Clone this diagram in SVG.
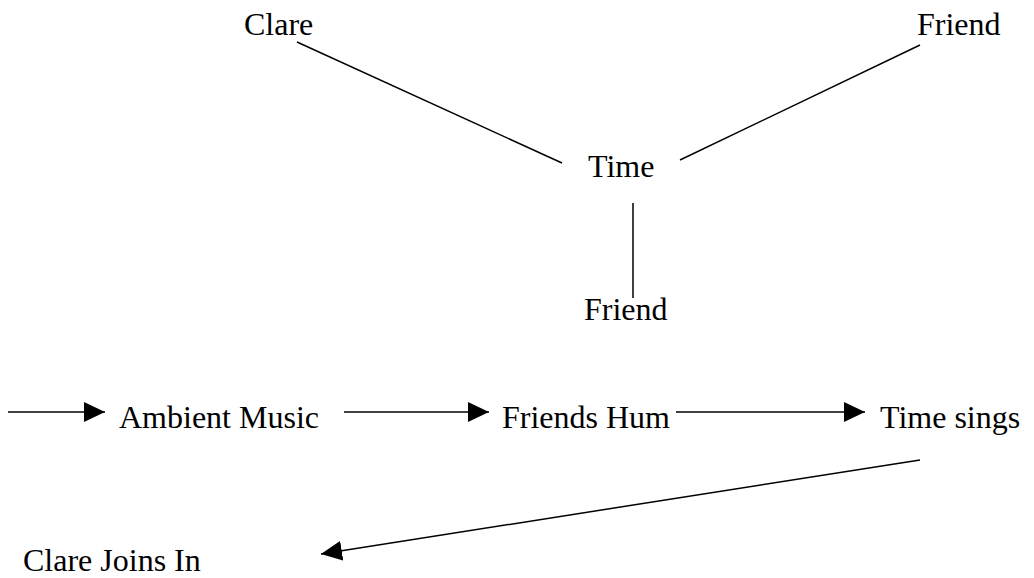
<svg xmlns="http://www.w3.org/2000/svg" width="1034" height="578" viewBox="0 0 1034 578">
<style>
text{font-family:"Liberation Serif","Times New Roman",serif;font-size:32px;fill:#000}
.ln{stroke:#000;stroke-width:1.5;fill:none}
</style>
<defs>
<marker id="ah" markerWidth="21" markerHeight="20" refX="21" refY="10" orient="auto" markerUnits="userSpaceOnUse">
<path d="M0,0 L21,10 L0,20 Z" fill="#000"/>
</marker>
</defs>
<rect width="1034" height="578" fill="#fff"/>
<g id="connectors">
<line class="ln" x1="297" y1="42" x2="562" y2="163"/>
<line class="ln" x1="920" y1="45" x2="680" y2="160"/>
<line class="ln" x1="633" y1="203" x2="633" y2="298"/>
<line class="ln" x1="8" y1="412" x2="105" y2="412" marker-end="url(#ah)"/>
<line class="ln" x1="344" y1="412" x2="489" y2="412" marker-end="url(#ah)"/>
<line class="ln" x1="676" y1="412" x2="865" y2="412" marker-end="url(#ah)"/>
<line class="ln" x1="920" y1="460" x2="321" y2="554" marker-end="url(#ah)"/>
</g>
<g id="clare"><text x="244" y="35">Clare</text></g>
<g id="friend-top"><text x="917" y="35">Friend</text></g>
<g id="time"><text x="588" y="177">Time</text></g>
<g id="friend-bottom"><text x="584" y="320">Friend</text></g>
<g id="ambient"><text x="119" y="428">Ambient Music</text></g>
<g id="friends-hum"><text x="502" y="428">Friends Hum</text></g>
<g id="time-sings"><text x="880" y="428">Time sings</text></g>
<g id="clare-joins"><text x="23" y="571">Clare Joins In</text></g>
</svg>
